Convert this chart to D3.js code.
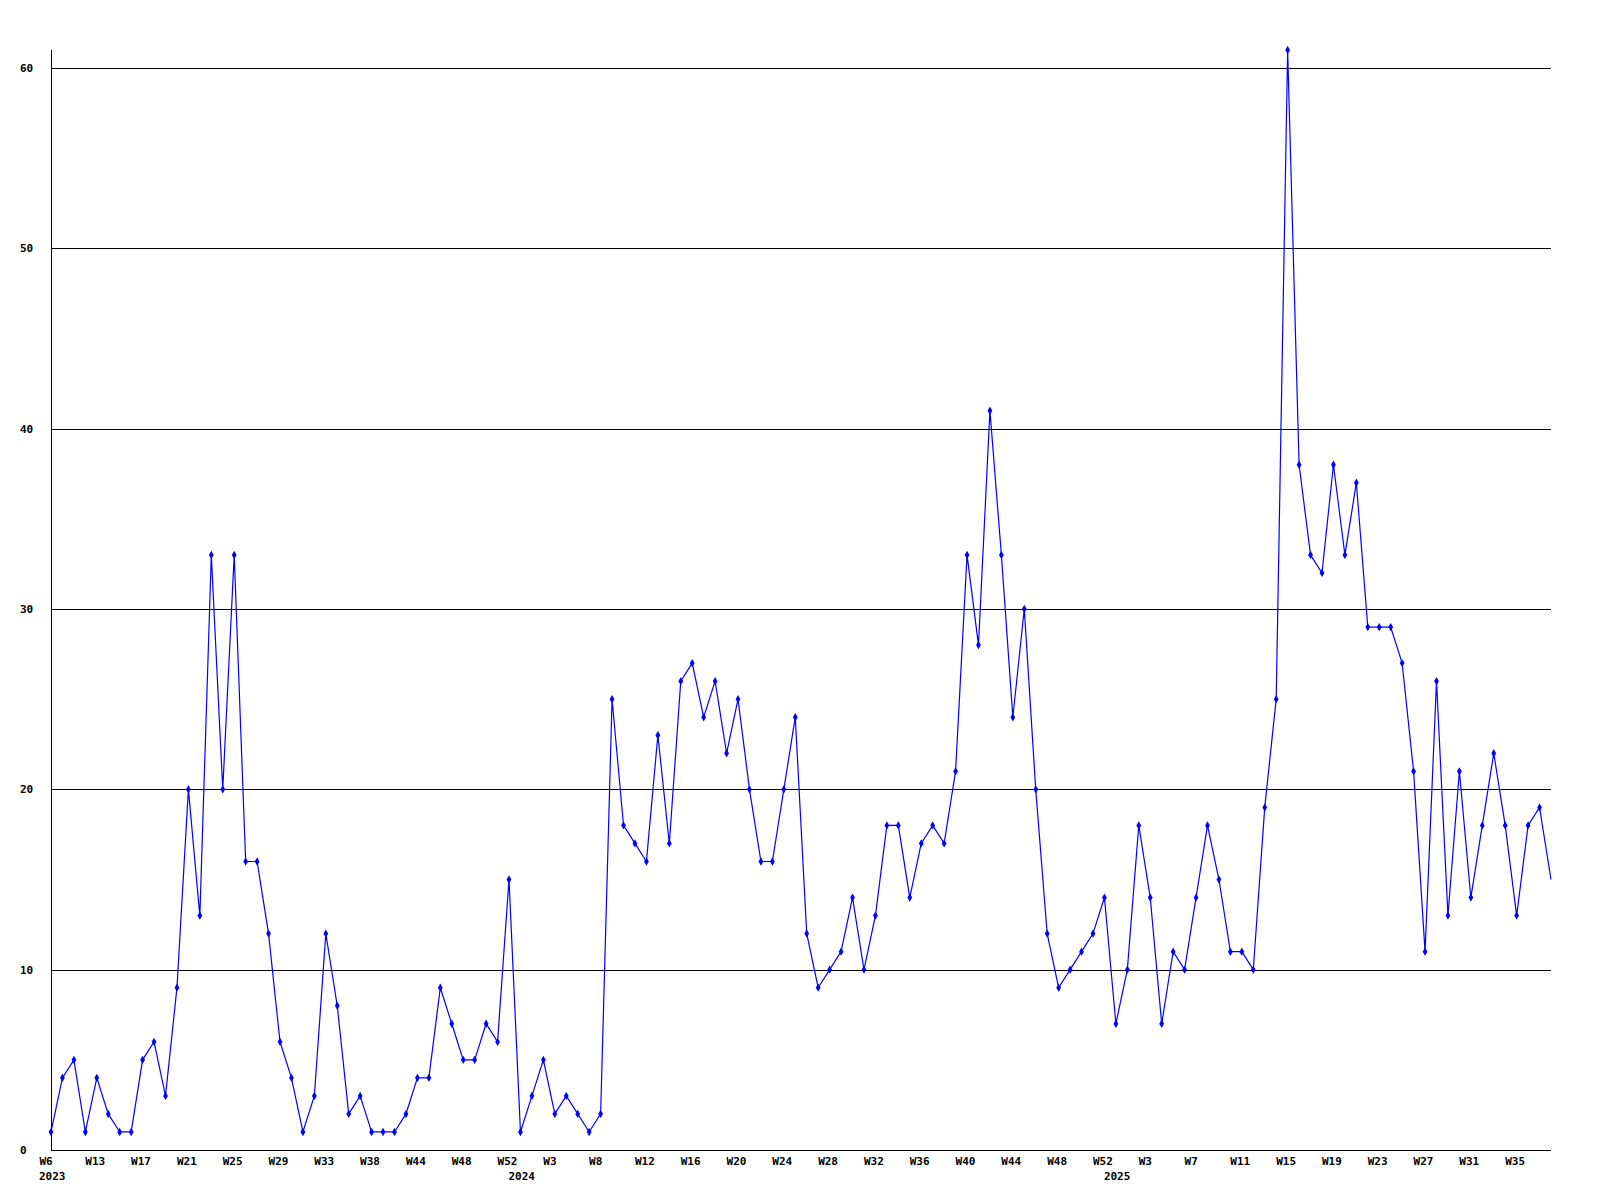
<!DOCTYPE html>
<html lang="en">
<head>
<meta charset="UTF-8">
<title>Weekly counts</title>
<script src="https://d3js.org/d3.v7.min.js"></script>
<style>
    body { margin: 0; background: #fff; }
    svg text { font-family: "DejaVu Sans Mono", monospace; font-size: 11px; font-weight: bold; fill: #000; }
    .axis path, .axis line { shape-rendering: crispEdges; }
</style>
</head>
<body>
<svg width="1600" height="1200"></svg>
<script>
    // weekly values, one per point
    const counts = [
        1, 4, 5, 1, 4, 2, 1, 1, 5, 6, 3, 9, 20, 13, 33, 20, 33, 16, 16, 12,
        6, 4, 1, 3, 12, 8, 2, 3, 1, 1, 1, 2, 4, 4, 9, 7, 5, 5, 7, 6,
        15, 1, 3, 5, 2, 3, 2, 1, 2, 25, 18, 17, 16, 23, 17, 26, 27, 24, 26, 22,
        25, 20, 16, 16, 20, 24, 12, 9, 10, 11, 14, 10, 13, 18, 18, 14, 17, 18, 17, 21,
        33, 28, 41, 33, 24, 30, 20, 12, 9, 10, 11, 12, 14, 7, 10, 18, 14, 7, 11, 10,
        14, 18, 15, 11, 11, 10, 19, 25, 61, 38, 33, 32, 38, 33, 37, 29, 29, 29, 27, 21,
        11, 26, 13, 21, 14, 18, 22, 18, 13, 18, 19, 15
    ];

    // a label every 4th point
    const tickLabels = ["W6", "W13", "W17", "W21", "W25", "W29", "W33", "W38", "W44", "W48", "W52",
        "W3", "W8", "W12", "W16", "W20", "W24", "W28", "W32", "W36", "W40", "W44", "W48", "W52",
        "W3", "W7", "W11", "W15", "W19", "W23", "W27", "W31", "W35"];

    // year names and the first point of each year
    const years = ["2023", "2024", "2025"];
    const yearStarts = [0, 41, 93];

    const yTicks = [0, 10, 20, 30, 40, 50, 60];

    const svg = d3.select("svg");
    const m = {left: 51, right: 1551, top: 50, bottom: 1150};

    const x = d3.scaleLinear()
        .domain([0, counts.length - 1])
        .range([m.left, m.right]);

    const y = d3.scaleLinear()
        .domain([0, 61])
        .range([m.bottom, m.top]);

    // grid lines + y labels
    const yAxis = svg.append("g")
        .attr("class", "axis")
        .attr("transform", `translate(${m.left},0)`)
        .call(d3.axisLeft(y).tickValues(yTicks).tickSize(-(m.right - m.left)).tickFormat(d3.format("d")));
    yAxis.select(".domain").remove();
    yAxis.selectAll(".tick line")
        .attr("stroke", "#000")
        .attr("stroke-width", 1)
        .filter(d => d === 0).remove();
    yAxis.selectAll(".tick text")
        .attr("x", 20 - m.left)
        .attr("text-anchor", "start")
        .attr("dy", "0.32em");

    // axis lines
    svg.append("line")
        .attr("x1", m.left + 0.5).attr("x2", m.left + 0.5)
        .attr("y1", m.top).attr("y2", m.bottom + 0.5)
        .attr("stroke", "#000").style("shape-rendering", "crispEdges");
    svg.append("line")
        .attr("x1", m.left).attr("x2", m.right)
        .attr("y1", m.bottom + 0.5).attr("y2", m.bottom + 0.5)
        .attr("stroke", "#000").style("shape-rendering", "crispEdges");

    // week labels
    const xAxis = svg.append("g")
        .attr("class", "axis")
        .attr("transform", `translate(0,${m.bottom})`)
        .call(d3.axisBottom(x)
            .tickValues(tickLabels.map((d, i) => i * 4))
            .tickSize(0)
            .tickFormat((d, i) => tickLabels[i]));
    xAxis.select(".domain").remove();
    xAxis.selectAll(".tick text")
        .attr("text-anchor", "start")
        .attr("x", -12)
        .attr("y", 7)
        .attr("dy", "0.71em");

    // year labels
    svg.append("g")
        .selectAll("text")
        .data(years)
        .join("text")
        .attr("x", (d, i) => x(yearStarts[i]) - 12)
        .attr("y", m.bottom + 30)
        .text(d => d);

    // the line
    const line = d3.line()
        .x((d, i) => x(i))
        .y(d => y(d));

    svg.append("path")
        .datum(counts)
        .attr("fill", "none")
        .attr("stroke", "#0000ff")
        .attr("stroke-width", 1.2)
        .attr("d", line);

    // point markers (last point drawn without marker, as in the original)
    svg.append("g")
        .selectAll("path")
        .data(counts.slice(0, -1))
        .join("path")
        .attr("transform", (d, i) => `translate(${x(i)},${y(d)})`)
        .attr("d", d3.symbol(d3.symbolDiamond, 20))
        .attr("fill", "#0000ff");
</script>
</body>
</html>
